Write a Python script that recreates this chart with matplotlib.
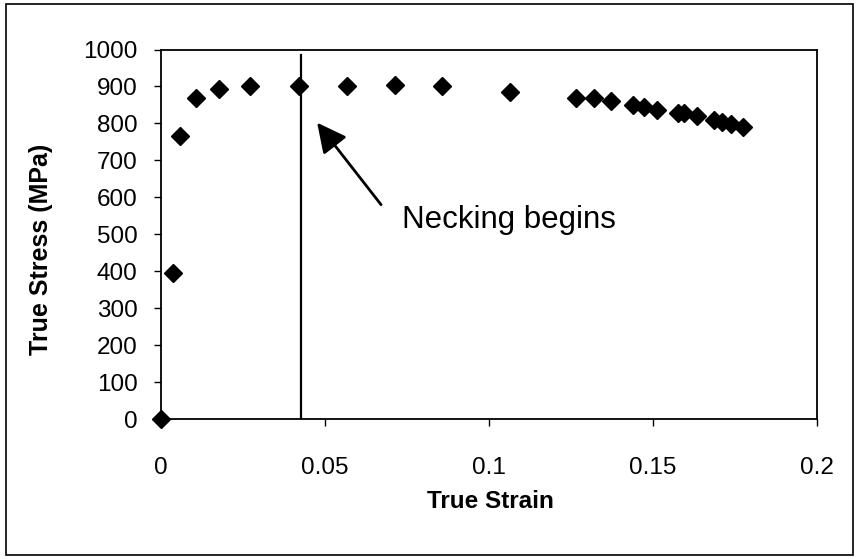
import matplotlib
matplotlib.use("Agg")
import matplotlib.pyplot as plt
from matplotlib.patches import Rectangle

plt.rcParams['font.family'] = ['Liberation Sans', 'DejaVu Sans']

# true stress-strain points
strain = [0, 0.0036, 0.0058, 0.0107, 0.0177, 0.0271, 0.0421, 0.0567, 0.0713,
          0.0857, 0.1063, 0.1266, 0.1319, 0.1371, 0.1438, 0.1474, 0.1513,
          0.1576, 0.1595, 0.1634, 0.1687, 0.1709, 0.1737, 0.1775]
stress = [0, 395, 767, 870, 894, 900, 902, 902, 905,
          900, 886, 869, 869, 862, 850, 844, 837,
          828, 828, 821, 810, 803, 798, 790]

neck_strain = 0.0427
neck_top = 985
x_ticks = [0, 0.05, 0.1, 0.15, 0.2]
x_tick_labels = ['0', '0.05', '0.1', '0.15', '0.2']
y_ticks = list(range(0, 1001, 100))

fig = plt.figure(figsize=(8.56, 5.59), dpi=100)
ax = fig.add_axes([0.1881, 0.2504, 0.9544 - 0.1881, 0.9114 - 0.2504])

ax.plot(strain, stress, linestyle='none', marker='D', markersize=9.5,
        color='black', clip_on=False, zorder=3)

# onset of necking
ax.plot([neck_strain, neck_strain], [0, neck_top], color='black', lw=1.6)
ax.annotate('', xy=(0.0476, 802), xytext=(0.0671, 580),
            arrowprops=dict(arrowstyle='-|>,head_length=0.6,head_width=0.3',
                            color='black', lw=2, mutation_scale=30,
                            shrinkA=0, shrinkB=0))
ax.text(0.0734, 518, 'Necking begins', fontsize=22.5, ha='left', va='baseline')

ax.set_xlim(0, 0.2)
ax.set_ylim(0, 1000)
ax.set_xticks(x_ticks)
ax.set_xticklabels(x_tick_labels)
ax.set_yticks(y_ticks)
ax.tick_params(axis='x', direction='out', length=5, width=1, pad=22, labelsize=17.5)
ax.tick_params(axis='y', direction='out', length=5, width=1, pad=12, labelsize=17.5)

for s in ax.spines.values():
    s.set_linewidth(1.3)

ax.set_xlabel('True Strain', fontsize=17.5, fontweight='bold')
ax.set_ylabel('True Stress (MPa)', fontsize=18, fontweight='bold')
ax.xaxis.set_label_coords(0.5015, -0.222)
ax.xaxis.label.set_va('center')
ax.yaxis.set_label_coords(-0.183, 0.46)
ax.yaxis.label.set_va('center')

# chart frame
fig.patches.append(Rectangle((6 / 856, 1 - 555 / 559), 847 / 856, 551 / 559,
                             transform=fig.transFigure, fill=False,
                             edgecolor='black', lw=1.2))

fig.savefig('out.png', dpi=100)
